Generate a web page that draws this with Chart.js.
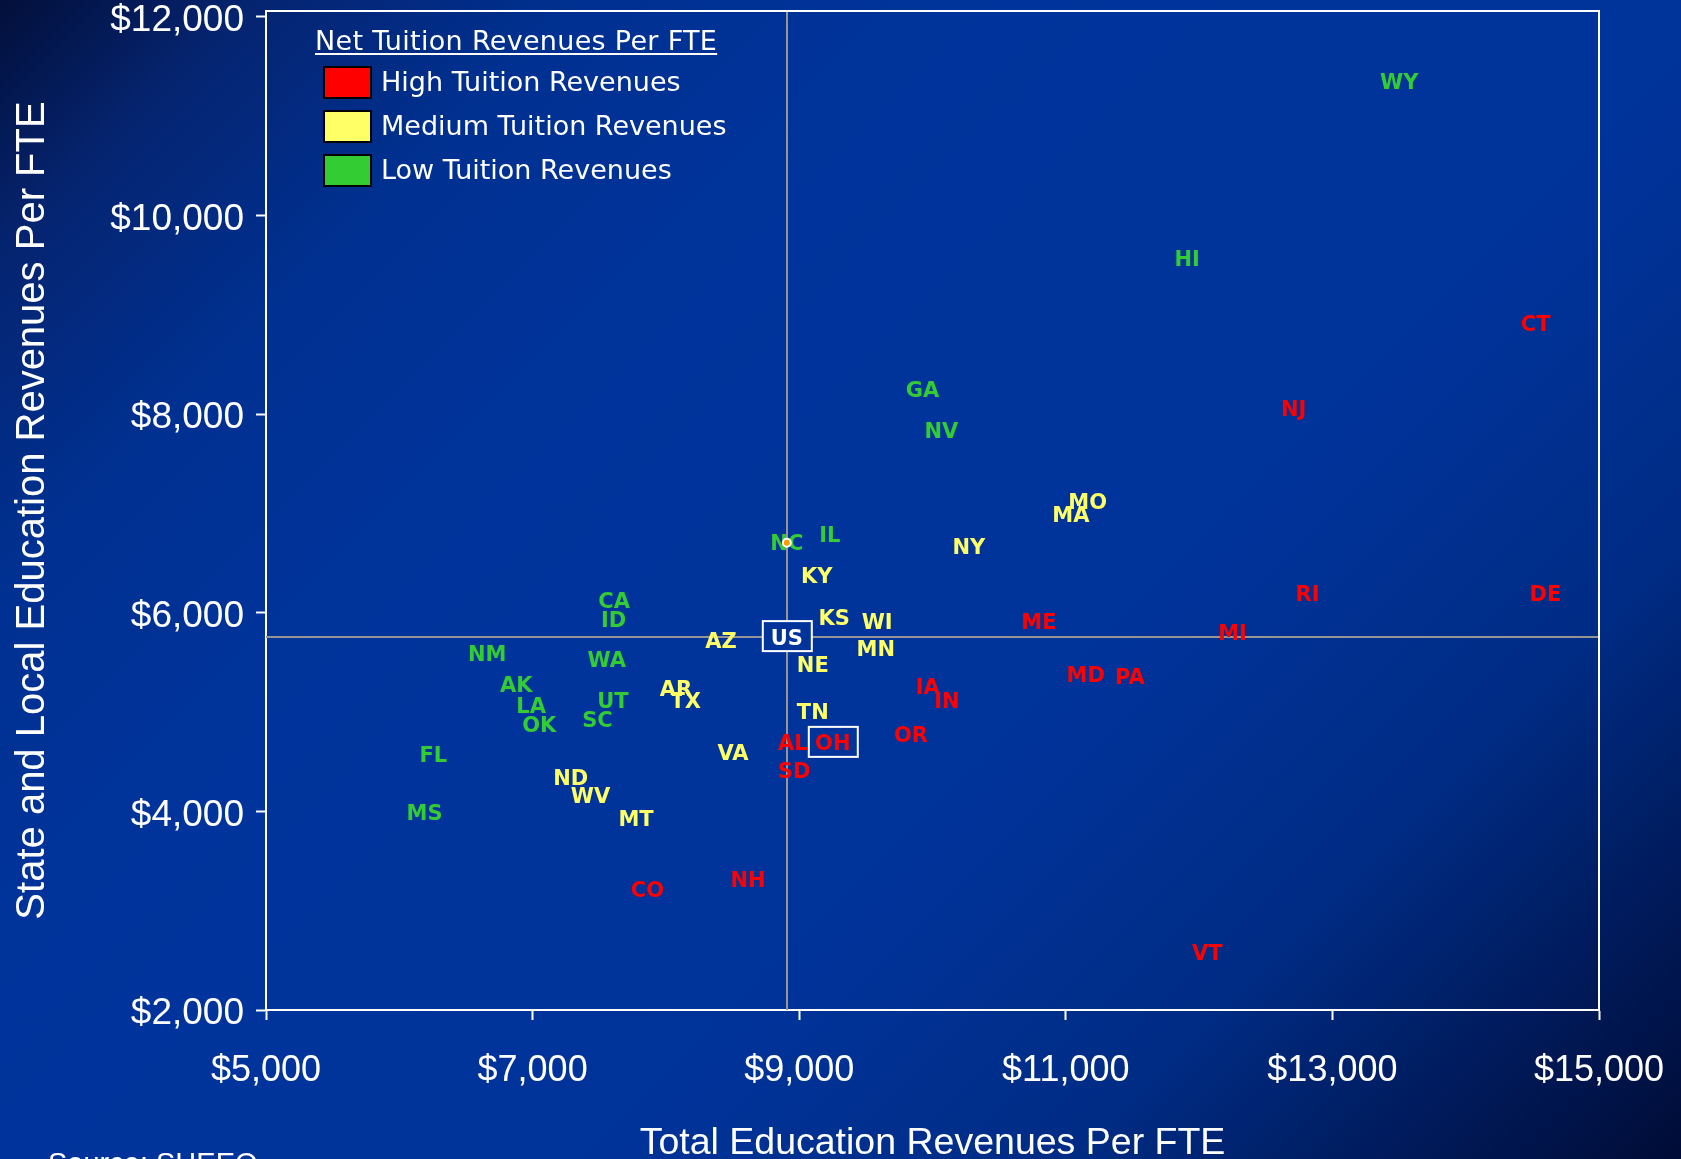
<!DOCTYPE html>
<html>
<head>
<meta charset="utf-8">
<title>State and Local vs Total Education Revenues Per FTE</title>
<script src="https://cdn.jsdelivr.net/npm/chart.js@4.4.1/dist/chart.umd.min.js"></script>
<style>
    html, body { margin: 0; padding: 0; }
    body {
        width: 1681px; height: 1159px; overflow: hidden; position: relative;
        background: linear-gradient(135deg, #020f3a 0%, #052470 9%, #003090 20%, #00349c 35%, #00339a 62%, #002c85 78%, #001a5a 90%, #000c36 100%);
    }
    #chart { position: absolute; left: 0; top: 0; }
    .legend-title {
        position: absolute; left: 315px; top: 27px; color: #fff; white-space: nowrap;
        font: 27px/27px "DejaVu Sans", sans-serif; letter-spacing: 0.3px;
        text-decoration: underline; text-decoration-thickness: 2px; text-underline-offset: 3px;
    }
    .legend-swatch { position: absolute; left: 323px; width: 45px; height: 29px; border: 2px solid #000; }
    .legend-label { position: absolute; left: 381px; color: #fff; white-space: nowrap; font: 27px/27px "DejaVu Sans", sans-serif; }
    .source { position: absolute; left: 48px; top: 1149px; color: #fff; white-space: nowrap; font: 29px/29px "Liberation Sans", sans-serif; }
</style>
</head>
<body>
<canvas id="chart" width="1681" height="1159"></canvas>
<div id="legend"></div>
<div class="source">Source: SHEEO</div>
<script>
// values (dollars per FTE)
const highStates = ['CT', 'NJ', 'RI', 'DE', 'ME', 'MI', 'IA', 'IN', 'MD', 'PA', 'AL', 'OH', 'OR', 'SD', 'CO', 'NH', 'VT'];
const highX = [14525, 12709, 12813, 14598, 10798, 12251, 9965, 10108, 11149, 11480, 8952, 9252, 9838, 8963, 7862, 8616, 12061];
const highY = [8915, 8058, 6193, 6193, 5909, 5804, 5258, 5113, 5378, 5358, 4695, 4690, 4771, 4410, 3214, 3317, 2584];

const mediumStates = ['MO', 'MA', 'NY', 'KY', 'KS', 'WI', 'AZ', 'MN', 'NE', 'AR', 'TX', 'TN', 'VA', 'ND', 'WV', 'MT'];
const mediumX = [11164, 11038, 10273, 9132, 9263, 9585, 8414, 9575, 9102, 8076, 8149, 9102, 8503, 7286, 7434, 7776];
const mediumY = [7120, 6990, 6665, 6375, 5955, 5912, 5718, 5640, 5481, 5237, 5118, 5003, 4594, 4343, 4163, 3924];

const lowStates = ['WY', 'HI', 'GA', 'NV', 'IL', 'NC', 'CA', 'ID', 'NM', 'WA', 'AK', 'LA', 'UT', 'SC', 'OK', 'FL', 'MS'];
const lowX = [13501, 11911, 9925, 10067, 9230, 8907, 7612, 7608, 6659, 7556, 6878, 6989, 7603, 7487, 7050, 6255, 6190];
const lowY = [11354, 9570, 8244, 7837, 6786, 6705, 6121, 5935, 5587, 5526, 5280, 5063, 5120, 4927, 4877, 4574, 3988];

const usAverage = { x: 8907, y: 5755 };
const boxedLabels = ['US', 'OH'];
const markedState = 'NC';

const xTicks = [5000, 7000, 9000, 11000, 13000, 15000];
const yTicks = [2000, 4000, 6000, 8000, 10000, 12000];

const groups = [
    { name: 'High Tuition Revenues', color: '#ff0000', states: highStates, xs: highX, ys: highY },
    { name: 'Medium Tuition Revenues', color: '#ffff66', states: mediumStates, xs: mediumX, ys: mediumY },
    { name: 'Low Tuition Revenues', color: '#33cc33', states: lowStates, xs: lowX, ys: lowY }
];

const BG_BLUE = '#00349b';

function money(v) { return '$' + Number(v).toLocaleString('en-US'); }

function toPoints(xs, ys) { return xs.map((x, i) => ({ x: x, y: ys[i] })); }

function buildLegend() {
    const box = document.getElementById('legend');
    let html = '<div class="legend-title">Net Tuition Revenues Per FTE</div>';
    groups.forEach((g, i) => {
        const top = 66 + i * 43.8;
        html += `<div class="legend-swatch" style="top:${top}px;background:${g.color}"></div>`;
        html += `<div class="legend-label" style="top:${top + 2}px">${g.name}</div>`;
    });
    box.innerHTML = html;
}

// no extra room for half tick labels, the layout padding decides the plot box
function noLabelPadding(s) {
    s.paddingTop = 0; s.paddingBottom = 0; s.paddingLeft = 0; s.paddingRight = 0;
}

// frame on top/right plus the US average cross lines
const quadrantLines = {
    id: 'quadrantLines',
    beforeDatasetsDraw(chart) {
        const { ctx, chartArea: a, scales } = chart;
        const mx = Math.round(scales.x.getPixelForValue(usAverage.x));
        const my = Math.round(scales.y.getPixelForValue(usAverage.y));
        ctx.save();
        ctx.strokeStyle = '#959595';
        ctx.lineWidth = 2;
        ctx.beginPath();
        ctx.moveTo(a.left, my); ctx.lineTo(a.right, my);
        ctx.moveTo(mx, a.top); ctx.lineTo(mx, a.bottom);
        ctx.stroke();
        ctx.strokeStyle = '#ffffff';
        ctx.beginPath();
        ctx.moveTo(a.left, a.top); ctx.lineTo(a.right, a.top); ctx.lineTo(a.right, a.bottom);
        ctx.stroke();
        ctx.restore();
    }
};

const stateLabels = {
    id: 'stateLabels',
    beforeDatasetsDraw(chart) {
        const ctx = chart.ctx;
        ctx.save();
        ctx.font = 'bold 21px "DejaVu Sans", sans-serif';
        ctx.textAlign = 'center';
        ctx.textBaseline = 'alphabetic';
        chart.data.datasets.forEach((ds, di) => {
            if (!ds.labels) return;
            const meta = chart.getDatasetMeta(di);
            meta.data.forEach((pt, i) => {
                const name = ds.labels[i];
                if (boxedLabels.includes(name)) {
                    ctx.fillStyle = BG_BLUE;
                    ctx.fillRect(pt.x - 24, pt.y - 16, 49, 30);
                    ctx.strokeStyle = '#ffffff';
                    ctx.lineWidth = 2;
                    ctx.strokeRect(pt.x - 24, pt.y - 16, 49, 30);
                }
                ctx.fillStyle = ds.labelColor;
                ctx.fillText(name, pt.x, pt.y + 7.5);
            });
        });
        ctx.restore();
    }
};

function buildDatasets() {
    const sets = groups.map(g => ({
        label: g.name,
        labels: g.states,
        labelColor: g.color,
        data: toPoints(g.xs, g.ys),
        pointRadius: 0,
        pointHoverRadius: 0
    }));
    sets.push({ label: 'US', labels: ['US'], labelColor: '#ffffff', data: [usAverage], pointRadius: 0, pointHoverRadius: 0 });
    const idx = lowStates.indexOf(markedState);
    sets.push({
        label: markedState,
        data: [{ x: lowX[idx], y: lowY[idx] }],
        pointRadius: 4,
        pointBackgroundColor: '#ff9900',
        pointBorderColor: '#ffffff',
        pointBorderWidth: 2
    });
    return sets;
}

function renderChart() {
    const ctx = document.getElementById('chart').getContext('2d');
    new Chart(ctx, {
        type: 'scatter',
        data: { datasets: buildDatasets() },
        options: {
            responsive: false,
            animation: false,
            devicePixelRatio: 1,
            layout: { padding: { top: 11, right: 82, left: 0, bottom: 0 } },
            plugins: { legend: { display: false }, tooltip: { enabled: false } },
            scales: {
                x: {
                    type: 'linear', min: 5000, max: 15000,
                    afterBuildTicks: s => { s.ticks = xTicks.map(v => ({ value: v })); },
                    afterFit: s => { s.height = 149; noLabelPadding(s); },
                    ticks: { color: '#ffffff', padding: 29, maxRotation: 0, autoSkip: false,
                        font: { family: 'Liberation Sans', size: 36 }, callback: v => money(v) },
                    grid: { drawOnChartArea: false, drawTicks: true, tickLength: 10, tickColor: '#ffffff', tickWidth: 2 },
                    border: { color: '#ffffff', width: 2 },
                    title: { display: true, text: 'Total Education Revenues Per FTE', color: '#ffffff', padding: 0,
                        font: { family: 'Liberation Sans', size: 37.5, lineHeight: 0.84 } }
                },
                y: {
                    type: 'linear', min: 2000, max: 12060,
                    afterBuildTicks: s => { s.ticks = yTicks.map(v => ({ value: v })); },
                    afterFit: s => { s.width = 266; noLabelPadding(s); },
                    ticks: { color: '#ffffff', padding: 12, labelOffset: 4, autoSkip: false,
                        font: { family: 'Liberation Sans', size: 37 }, callback: v => money(v) },
                    grid: { drawOnChartArea: false, drawTicks: true, tickLength: 10, tickColor: '#ffffff', tickWidth: 2 },
                    border: { color: '#ffffff', width: 2 },
                    title: { display: true, text: 'State and Local Education Revenues Per FTE', color: '#ffffff',
                        padding: { top: 9, bottom: 0 }, font: { family: 'Liberation Sans', size: 40 } }
                }
            }
        },
        plugins: [quadrantLines, stateLabels]
    });
}

buildLegend();
renderChart();
</script>
</body>
</html>
